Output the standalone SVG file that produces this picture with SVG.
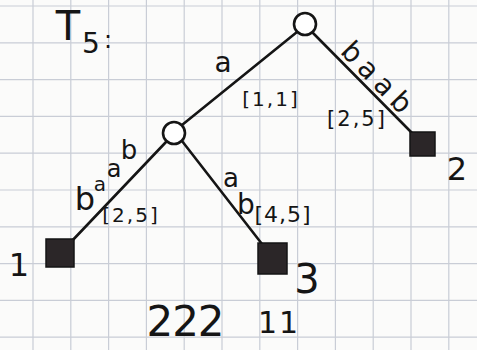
<svg xmlns="http://www.w3.org/2000/svg" width="477" height="350" viewBox="0 0 477 350">
<style>
.grid line{stroke:#c9cdd6;stroke-width:1.2}
.edge{stroke:#151515;stroke-width:2.6;fill:none;stroke-linecap:round}
.inner{fill:#fff;stroke:#151515;stroke-width:2.6}
.leaf{fill:#2b2628;stroke:#151515;stroke-width:1.5}
text{font-family:"DejaVu Sans","Liberation Sans",sans-serif;fill:#151515;text-anchor:middle}
</style>
<rect width="477" height="350" fill="#fbfbfa"/>
<g class="grid">
<line x1="33" y1="0" x2="33" y2="350"/><line x1="70.8" y1="0" x2="70.8" y2="350"/><line x1="108.6" y1="0" x2="108.6" y2="350"/><line x1="146.4" y1="0" x2="146.4" y2="350"/><line x1="184.2" y1="0" x2="184.2" y2="350"/><line x1="222" y1="0" x2="222" y2="350"/><line x1="259.8" y1="0" x2="259.8" y2="350"/><line x1="297.6" y1="0" x2="297.6" y2="350"/><line x1="335.4" y1="0" x2="335.4" y2="350"/><line x1="373.2" y1="0" x2="373.2" y2="350"/><line x1="411" y1="0" x2="411" y2="350"/><line x1="448.8" y1="0" x2="448.8" y2="350"/>
<line x1="0" y1="6" x2="477" y2="6"/><line x1="0" y1="42.8" x2="477" y2="42.8"/><line x1="0" y1="79.6" x2="477" y2="79.6"/><line x1="0" y1="116.4" x2="477" y2="116.4"/><line x1="0" y1="153.2" x2="477" y2="153.2"/><line x1="0" y1="190" x2="477" y2="190"/><line x1="0" y1="226.8" x2="477" y2="226.8"/><line x1="0" y1="263.6" x2="477" y2="263.6"/><line x1="0" y1="300.4" x2="477" y2="300.4"/><line x1="0" y1="337.2" x2="477" y2="337.2"/>
</g>
<g id="title">
<text x="68" y="40" font-size="40">T</text>
<text x="91" y="53" font-size="28">5</text>
<text x="108" y="48" font-size="24">:</text>
</g>
<g id="connectors">
<line class="edge" x1="297" y1="32" x2="182" y2="125"/>
<line class="edge" x1="312" y1="32" x2="413" y2="134"/>
<line class="edge" x1="166" y1="142" x2="70" y2="243"/>
<line class="edge" x1="182" y1="141" x2="262" y2="244"/>
<text x="223" y="72" font-size="28">a</text>
<text x="271" y="106" font-size="20" letter-spacing="2">[1,1]</text>
<text x="372" y="86" font-size="28" letter-spacing="6" transform="rotate(45.6 372 86)">baab</text>
<text x="357" y="126" font-size="21" letter-spacing="2">[2,5]</text>
<text x="85" y="210" font-size="32">b</text>
<text x="100" y="191" font-size="20">a</text>
<text x="114" y="177" font-size="24">a</text>
<text x="129" y="159" font-size="26">b</text>
<text x="131" y="222" font-size="20" letter-spacing="2">[2,5]</text>
<text x="231" y="187" font-size="26">a</text>
<text x="246" y="214" font-size="28">b</text>
<text x="283" y="222" font-size="22" letter-spacing="1">[4,5]</text>
</g>
<g id="root"><circle class="inner" cx="305" cy="24" r="11"/></g>
<g id="inner"><circle class="inner" cx="174" cy="133" r="11"/></g>
<g id="leaf2"><rect class="leaf" x="410" y="132" width="25" height="24"/><text x="457" y="180" font-size="32">2</text></g>
<g id="leaf1"><rect class="leaf" x="46" y="239" width="28" height="28"/><text x="19" y="276" font-size="32">1</text></g>
<g id="leaf3"><rect class="leaf" x="258" y="243" width="29" height="31"/><text x="307" y="293" font-size="40">3</text></g>
<g id="counts">
<text x="185" y="336" font-size="42" letter-spacing="-1">222</text>
<text x="279" y="333" font-size="30" letter-spacing="2">11</text>
</g>
</svg>
